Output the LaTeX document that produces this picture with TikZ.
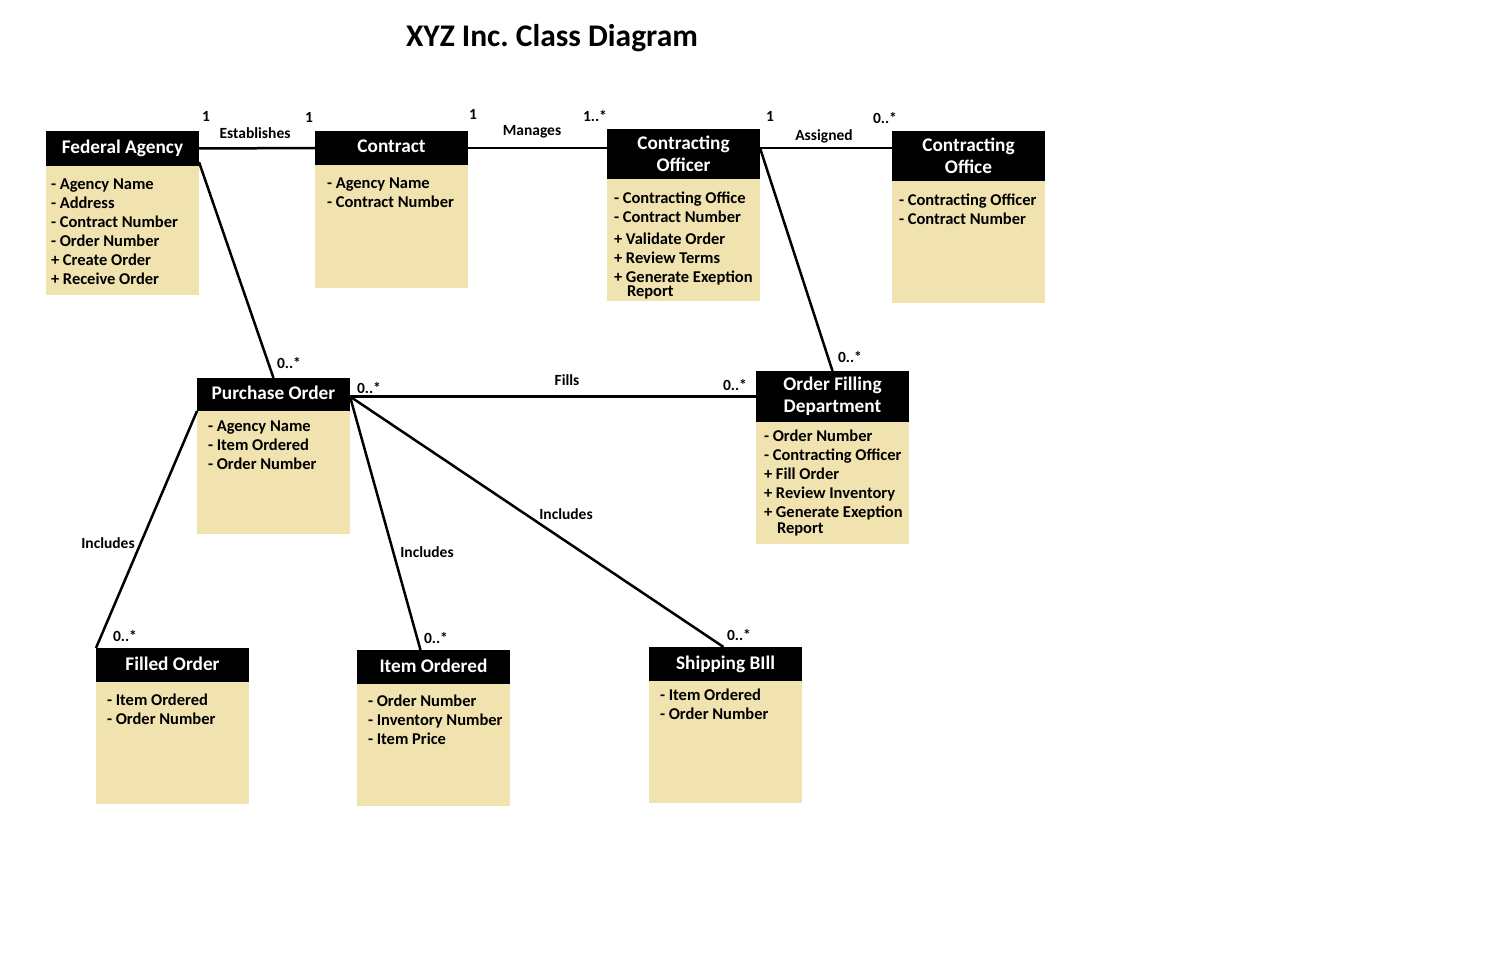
\documentclass[tikz,border=0pt]{standalone}
\usepackage{fontspec}
\setmainfont{Carlito}
\usetikzlibrary{calc,positioning}

\definecolor{attrbg}{RGB}{240,227,176}
\newcommand{\attrs}[1]{\begin{tabular}[t]{@{}l@{}}#1\end{tabular}}

\begin{document}
\begin{tikzpicture}[x=1pt,y=-1pt,inner sep=0pt,outer sep=0pt,
  font=\bfseries\fontsize{15.5}{19}\selectfont,
  headbox/.style={fill=black,text=white,minimum width=153,anchor=north west,
    font=\bfseries\fontsize{19.3}{22}\selectfont},
  head/.style={headbox,align=center},
  onehead/.style={headbox,text height=14pt,text depth=4pt},
  body/.style={fill=attrbg,minimum width=153,anchor=north west},
  attr/.style={anchor=base west,font=\bfseries\fontsize{16.5}{19}\selectfont},
  assoc/.style={line width=2.5}]

\useasboundingbox[fill=white] (0,0) rectangle (1502,971);

\node (title) at (552,38) [font=\bfseries\fontsize{31.5}{34}\selectfont] {XYZ Inc.\ Class Diagram};

% classes
\node (fa) at (46,131) [onehead,minimum height=35] {Federal Agency};
\node (fab) at (fa.south west) [body,minimum height=129] {};
\node (faa) at ($(fab.north west)+(5,23.5)$) [attr] {\attrs{- Agency Name\\- Address\\- Contract Number\\- Order Number\\+ Create Order\\+ Receive Order}};

\node (ct) at (315,131) [onehead,minimum height=34] {Contract};
\node (ctb) at (ct.south west) [body,minimum height=123] {};
\node (cta) at ($(ctb.north west)+(12,24)$) [attr] {\attrs{- Agency Name\\- Contract Number}};

\node (co) at (607,129) [head,minimum height=50] {Contracting\\Officer};
\node (cob) at (co.south west) [body,minimum height=122] {};
\node (coa) at ($(cob.north west)+(7,24.5)$) [attr] {\attrs{- Contracting Office\\- Contract Number\\[3pt]+ Validate Order\\+ Review Terms\\+ Generate Exeption\\[-5pt]\hspace{13pt}Report}};

\node (of) at (892,131) [head,minimum height=50] {Contracting\\Office};
\node (ofb) at (of.south west) [body,minimum height=122] {};
\node (ofa) at ($(ofb.north west)+(7,24)$) [attr] {\attrs{- Contracting Officer\\- Contract Number}};

\node (po) at (197,378) [onehead,minimum height=33] {Purchase Order};
\node (pob) at (po.south west) [body,minimum height=123] {};
\node (poa) at ($(pob.north west)+(11,20.5)$) [attr] {\attrs{- Agency Name\\- Item Ordered\\- Order Number}};

\node (ofd) at (756,371) [head,minimum height=51] {Order Filling\\Department};
\node (ofdb) at (ofd.south west) [body,minimum height=122] {};
\node (ofda) at ($(ofdb.north west)+(8,19.5)$) [attr] {\attrs{- Order Number\\- Contracting Officer\\+ Fill Order\\+ Review Inventory\\+ Generate Exeption\\[-3pt]\hspace{13pt}Report}};

\node (fo) at (96,648) [onehead,minimum height=34] {Filled Order};
\node (fob) at (fo.south west) [body,minimum height=122] {};
\node (foa) at ($(fob.north west)+(11,23.5)$) [attr] {\attrs{- Item Ordered\\- Order Number}};

\node (io) at (357,650) [onehead,minimum height=34] {Item Ordered};
\node (iob) at (io.south west) [body,minimum height=122] {};
\node (ioa) at ($(iob.north west)+(11,22.5)$) [attr] {\attrs{- Order Number\\- Inventory Number\\- Item Price}};

\node (sb) at (649,647) [onehead,minimum height=34] {Shipping BIll};
\node (sbb) at (sb.south west) [body,minimum height=122] {};
\node (sba) at ($(sbb.north west)+(11,19.5)$) [attr] {\attrs{- Item Ordered\\- Order Number}};

% associations
\coordinate (pofork) at (po.east |- ofd.west);
\draw[assoc] (fa.east) -- (ct.west);
\draw[assoc] (ct.east) -- (ct.east -| co.west);
\draw[assoc] (co.east |- ct.east) -- (ct.east -| of.west);
\draw[assoc] ($(fa.south east)+(0,-4)$) -- (po.north);
\draw[assoc] (co.east |- ct.east) -- (ofd.north);
\draw[assoc] (pofork) -- (ofd.west);
\draw[assoc] (po.south west) -- (fo.north west);
\draw[assoc] (pofork) -- ($(io.north)+(-13,0)$);
\draw[assoc] (pofork) -- ($(sb.north)+(-2,0)$);

% labels and multiplicities
\node (lest) at (255,133) {Establishes};
\node (lman) at (532,132) {Manages};
\node (lass) at (824,136) {Assigned};
\node (lfil) at (567,380) {Fills};
\node (linc1) at (108,543) {Includes};
\node (linc2) at (427,552) {Includes};
\node (linc3) at (566,514) {Includes};

\node (m1) at (206,116) {1};
\node (m2) at (309,117) {1};
\node (m3) at (473,114) {1};
\node (m4) at (595,116) {1..*};
\node (m5) at (770,116) {1};
\node (m6) at (885,118) {0..*};
\node (m7) at (289,363) {0..*};
\node (m8) at (850,357) {0..*};
\node (m9) at (369,388) {0..*};
\node (m10) at (735,385) {0..*};
\node (m11) at (125,636) {0..*};
\node (m12) at (436,638) {0..*};
\node (m13) at (739,635) {0..*};

\end{tikzpicture}
\end{document}
